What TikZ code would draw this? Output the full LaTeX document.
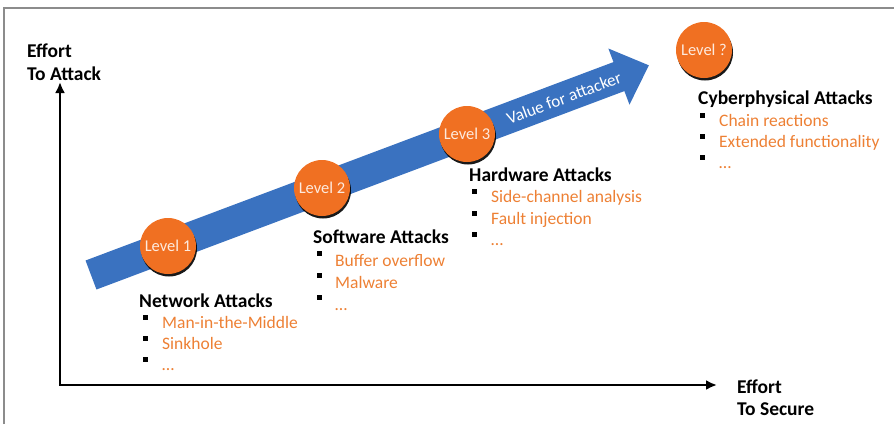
\documentclass[tikz,border=0pt]{standalone}
\usepackage{fontspec}
\setmainfont{Carlito}
\usetikzlibrary{arrows.meta,shadows}
\definecolor{lvlorange}{RGB}{240,112,34}
\definecolor{itemorange}{RGB}{237,128,52}
\definecolor{valblue}{RGB}{58,114,192}
\tikzstyle{level} = [circle, fill=lvlorange, minimum size=56pt, inner sep=0pt, text=white!85!lvlorange, font=\fontsize{16.5}{16.5}\selectfont, drop shadow={shadow xshift=1pt, shadow yshift=-2.5pt, fill=black, opacity=0.9}]
\tikzstyle{head} = [anchor=base west, inner sep=0pt, font=\bfseries\fontsize{19.5}{19.5}\selectfont]
\tikzstyle{item} = [anchor=base west, inner sep=0pt, text=itemorange, font=\fontsize{17.5}{17.5}\selectfont]
\tikzstyle{bullet} = [fill=black, minimum size=5pt, inner sep=0pt]
\tikzstyle{axis} = [line width=2.6pt, {Latex[length=11pt,width=10pt]}-{Latex[length=11pt,width=10pt]}]

\begin{document}
\begin{tikzpicture}[x=1pt,y=-1pt]

		\useasboundingbox (0,0) rectangle (894,424);
		\draw [line width=1.4pt,black!45] (4,424)--(4,8)--(894,8);

		% axes
		\coordinate (ytop) at (60,82);
		\coordinate (origin) at (60,385);
		\coordinate (xend) at (717,385);
		\draw [axis] (ytop)--(origin)--(xend);
		\node [head] (yname) at (27,57) {Effort};
		\node [head] (yname2) at (27,80) {To Attack};
		\node [head] (xname) at (737,393) {Effort};
		\node [head] (xname2) at (737,415) {To Secure};

		% value arrow
		\begin{scope}[shift={(91,275)},rotate=20.6]
			\fill [valblue] (0,-15.5)--(564,-15.5)--(564,-30)--(596,0)--(564,30)--(564,15.5)--(0,15.5)--cycle;
		\end{scope}
		\node [text=white,rotate=20.6,font=\fontsize{17}{17}\selectfont] (value) at (564,98) {Value for attacker};

		% levels
		\node [level] (lvl1) at (168,246) {Level 1};
		\node [level] (lvl2) at (322,188) {Level 2};
		\node [level] (lvl3) at (467,134) {Level 3};
		\node [level] (lvlq) at (704,50) {Level ?};

		% attack lists
		\node [head] (net) at (139,307) {Network Attacks};
		\foreach \t [count=\i] in {Man-in-the-Middle, Sinkhole, \ldots}
			{\node [bullet] (netb\i) at (145,296+21.3*\i) {};
			 \node [item] (net\i) at (162,307+21.3*\i) {\t};}

		\node [head] (soft) at (313,243) {Software Attacks};
		\foreach \t [count=\i] in {Buffer overflow, Malware, \ldots}
			{\node [bullet] (softb\i) at (319,232+21.8*\i) {};
			 \node [item] (soft\i) at (335,245+21.8*\i) {\t};}

		\node [head] (hard) at (469,181) {Hardware Attacks};
		\foreach \t [count=\i] in {Side-channel analysis, Fault injection, \ldots}
			{\node [bullet] (hardb\i) at (474,170+21.6*\i) {};
			 \node [item] (hard\i) at (491,181+21.6*\i) {\t};}

		\node [head] (cyber) at (698,104) {Cyberphysical Attacks};
		\foreach \t [count=\i] in {Chain reactions, Extended functionality, \ldots}
			{\node [bullet] (cyberb\i) at (702,94+21.3*\i) {};
			 \node [item] (cyber\i) at (719,105+21.3*\i) {\t};}

\end{tikzpicture}
\end{document}
